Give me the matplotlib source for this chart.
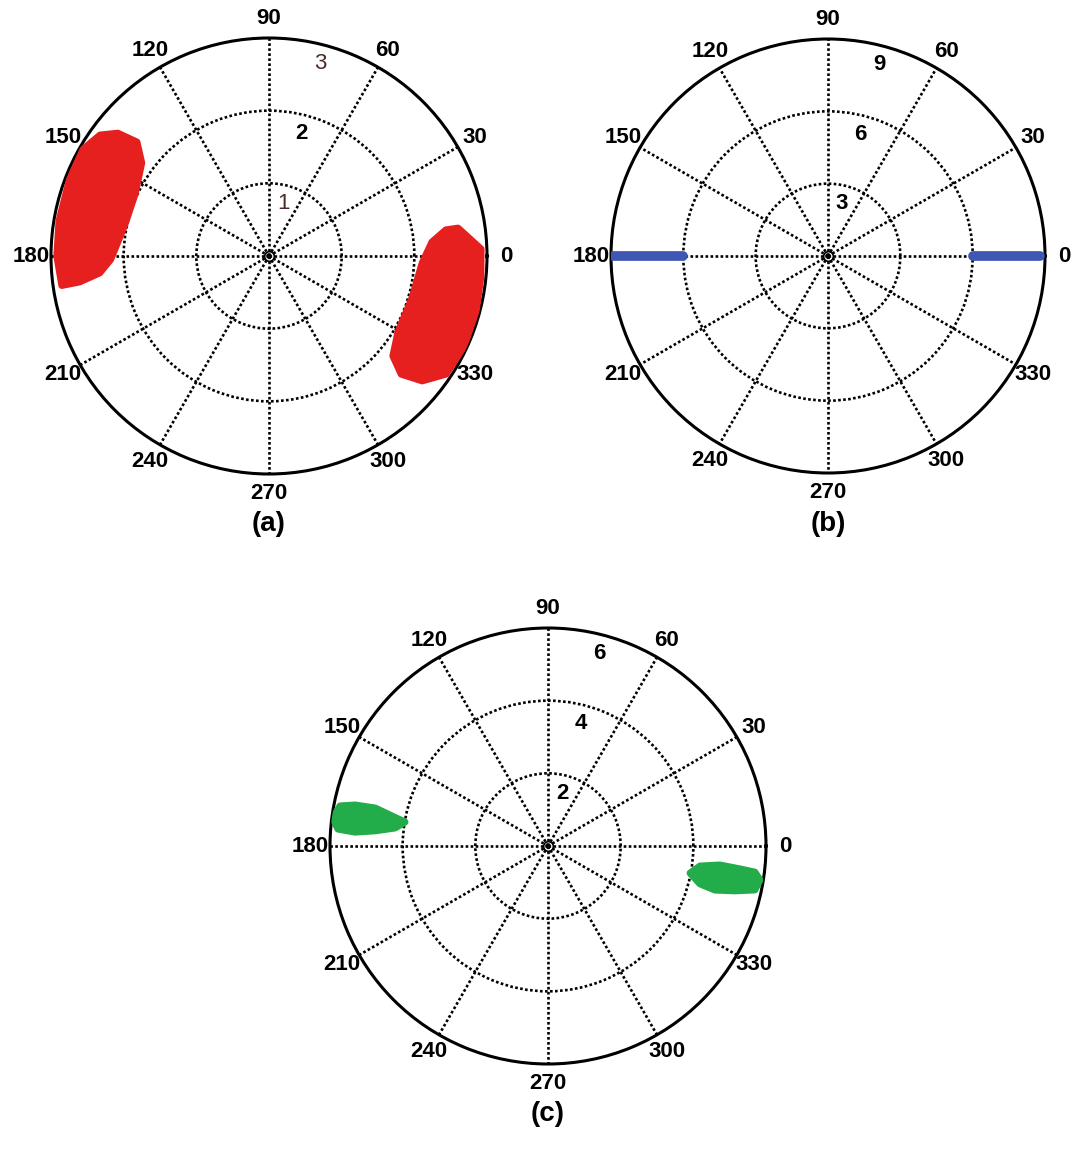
import numpy as np
import matplotlib.pyplot as plt

plt.rcParams['font.family'] = ['Liberation Sans', 'DejaVu Sans']

# outlines of the point clouds (theta in deg, r)
a_left_theta = [140.9, 139.2, 143.8, 155.2, 167.9, 181.3, 185.7, 187.8, 188.1, 180.0, 170.5, 159.2, 150.1, 144.4]
a_left_r = [2.68, 2.40, 2.17, 2.03, 2.03, 2.18, 2.34, 2.63, 2.88, 2.92, 2.93, 2.94, 2.95, 2.86]
a_right_theta = [8.4, 1.9, -5.7, -14.9, -24.8, -33.7, -39.2, -41.8, -38.9, -30.5, -16.4, -2.6, 4.9, 8.4]
a_right_r = [2.63, 2.92, 2.93, 2.95, 2.96, 2.93, 2.72, 2.44, 2.19, 2.06, 2.05, 2.11, 2.25, 2.46]

b_theta = [0, 180]
b_r_start = [6.0, 6.0]
b_r_end = [8.8, 8.9]

c_left_theta = [172.6, 169.1, 168.0, 167.6, 168.9, 170.5, 173.3, 175.0, 175.9, 175.4]
c_left_r = [5.97, 5.83, 5.43, 4.87, 4.43, 3.99, 4.24, 4.78, 5.33, 5.80]
c_right_theta = [-10.8, -7.5, -6.3, -6.8, -7.2, -9.1, -12.0, -13.5, -14.8, -14.0]
c_right_r = [3.98, 4.22, 4.76, 5.32, 5.74, 5.91, 5.82, 5.29, 4.75, 4.31]

angles = np.arange(0, 360, 30)
a_ticks = [1, 2, 3]
b_ticks = [3, 6, 9]
c_ticks = [2, 4, 6]

red, blue, green = '#e5201f', '#3d57b3', '#22ad4a'

W, H = 1079, 1155
fig = plt.figure(figsize=(W / 100, H / 100), dpi=100)


def polar_panel(cx, cy, R, ticks, letter, tick_colors=None):
    ax = fig.add_axes([(cx - R) / W, 1 - (cy + R) / H, 2 * R / W, 2 * R / H],
                      projection='polar')
    rmax = ticks[-1]
    ax.set_ylim(0, rmax)
    ax.set_rticks(ticks[:-1])
    ax.set_thetagrids(angles)
    ax.set_xticklabels([])
    ax.set_yticklabels([])
    ax.tick_params(length=0)
    ax.grid(True, color='k', linestyle=(0, (1, 0.9)), linewidth=1.9)
    ax.spines['polar'].set_linewidth(2.2)
    ax.plot(0, 0, marker='o', ms=7, mfc='none', mec='k', mew=1.2, zorder=5)
    for d in angles:
        ax.text(np.deg2rad(d), rmax * 1.09, str(d), ha='center', va='center',
                fontsize=16, fontweight='bold', clip_on=False)
    for i, t in enumerate(ticks):
        col = 'k' if tick_colors is None else tick_colors[i]
        wt = 'bold' if tick_colors is None or col == 'k' else 'normal'
        ax.text(np.deg2rad(75), t - 0.085 * rmax, str(t), ha='center', va='center',
                fontsize=16, fontweight=wt, color=col)
    fig.text(cx / W, 1 - (cy + 268) / H, letter, ha='center', va='center',
             fontsize=20, fontweight='bold')
    return ax


def cloud(ax, theta, r, color):
    # filled outline with rounded joins so the cloud edge looks soft
    ax.fill(np.deg2rad(theta), r, facecolor=color, edgecolor=color, lw=5,
            joinstyle='round', zorder=3)


ax1 = polar_panel(269, 256, 218, a_ticks, '(a)', ['#4a2b2b', 'k', '#4a2b2b'])
cloud(ax1, a_left_theta, a_left_r, red)
cloud(ax1, a_right_theta, a_right_r, red)

ax2 = polar_panel(828, 256, 217, b_ticks, '(b)')
for th, r0, r1 in zip(b_theta, b_r_start, b_r_end):
    ax2.plot([np.deg2rad(th)] * 2, [r0, r1], color=blue, lw=7,
             solid_capstyle='round', zorder=3)

ax3 = polar_panel(548, 846, 218, c_ticks, '(c)')
cloud(ax3, c_left_theta, c_left_r, green)
cloud(ax3, c_right_theta, c_right_r, green)

plt.savefig('out.png', dpi=100)
